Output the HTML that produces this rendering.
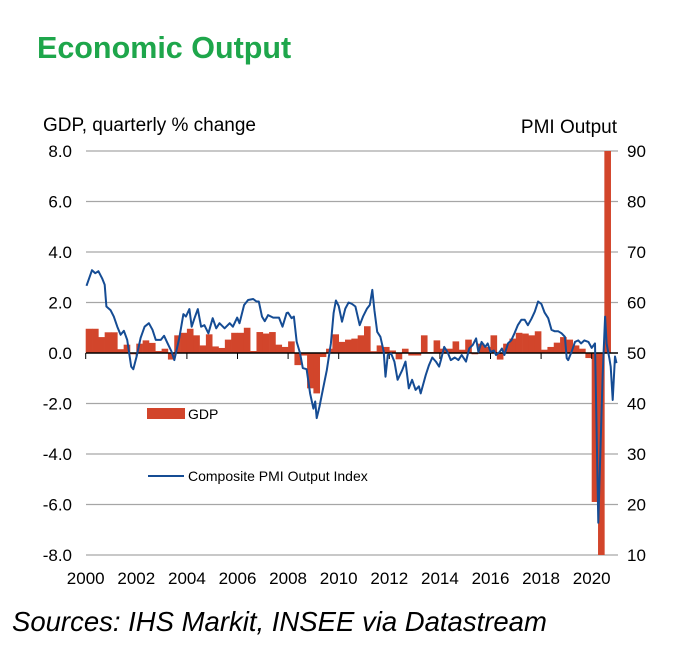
<!DOCTYPE html>
<html><head><meta charset="utf-8"><style>
body{margin:0;background:#fff;width:677px;height:657px;overflow:hidden;font-family:"Liberation Sans",Arial,sans-serif}
svg{display:block}
</style></head><body>
<svg id="c" width="677" height="657">
<text x="37" y="58" font-size="30.5" font-weight="bold" fill="#1ea64b">Economic Output</text>
<text x="43" y="131" font-size="19" fill="#000">GDP, quarterly % change</text>
<text x="617" y="133" font-size="19" fill="#000" text-anchor="end">PMI Output</text>
<text x="12" y="631" font-size="27.5" font-style="italic" fill="#000">Sources: IHS Markit, INSEE via Datastream</text>
<g id="grid"></g><g id="bars"></g><g id="axes"></g><g id="line"></g><g id="legend"></g>
</svg>
<script>
const gdpStartYear = 2000;
const gdpValues = [0.96,0.96,0.63,0.82,0.82,0.15,0.33,-0.05,0.37,0.5,0.4,0.08,0.17,-0.26,0.7,0.8,0.96,0.7,0.3,0.74,0.26,0.2,0.53,0.8,0.8,1.0,0.08,0.83,0.77,0.83,0.33,0.24,0.46,-0.48,-0.1,-1.4,-1.6,-0.16,0.17,0.74,0.44,0.53,0.57,0.7,1.06,0.07,0.3,0.24,0.1,-0.25,0.17,-0.1,-0.1,0.7,0.04,0.5,0.17,0.17,0.46,0.13,0.53,-0.05,0.37,0.24,0.7,-0.26,0.37,0.57,0.8,0.77,0.7,0.86,0.13,0.24,0.41,0.63,0.53,0.3,0.17,-0.2,-5.9,-13.8,18.7];
const pmiDates = [2000.03,2000.25,2000.38,2000.5,2000.65,2000.75,2000.82,2000.98,2001.11,2001.25,2001.38,2001.51,2001.64,2001.8,2001.88,2002.01,2002.17,2002.33,2002.5,2002.64,2002.77,2002.97,2003.1,2003.23,2003.39,2003.5,2003.7,2003.86,2003.96,2004.1,2004.19,2004.3,2004.43,2004.56,2004.69,2004.85,2005.02,2005.16,2005.29,2005.49,2005.69,2005.82,2005.99,2006.08,2006.26,2006.42,2006.62,2006.75,2006.84,2006.97,2007.08,2007.21,2007.41,2007.64,2007.78,2007.94,2008.0,2008.14,2008.23,2008.34,2008.47,2008.58,2008.73,2008.87,2009.0,2009.07,2009.13,2009.24,2009.37,2009.53,2009.69,2009.8,2009.89,2010.0,2010.13,2010.26,2010.39,2010.53,2010.66,2010.83,2010.96,2011.12,2011.23,2011.33,2011.41,2011.52,2011.65,2011.78,2011.85,2011.94,2012.07,2012.2,2012.33,2012.51,2012.64,2012.77,2012.9,2013.04,2013.17,2013.24,2013.44,2013.57,2013.7,2013.84,2013.97,2014.04,2014.17,2014.3,2014.43,2014.59,2014.73,2014.86,2015.03,2015.16,2015.3,2015.43,2015.52,2015.65,2015.79,2015.89,2016.0,2016.13,2016.22,2016.36,2016.45,2016.55,2016.69,2016.82,2016.95,2017.08,2017.22,2017.35,2017.48,2017.62,2017.75,2017.88,2018.01,2018.14,2018.28,2018.41,2018.54,2018.68,2018.81,2018.94,2019.01,2019.07,2019.2,2019.34,2019.47,2019.58,2019.71,2019.87,2020.0,2020.13,2020.26,2020.43,2020.53,2020.59,2020.7,2020.75,2020.83,2020.92,2020.98];
const pmiValues = [63.3,66.4,65.8,66.2,64.8,63.5,59.2,58.5,57.2,55.2,53.6,54.4,52.6,47.3,46.8,49.3,53,55.2,55.9,54.6,52.6,52.6,53.4,52,50.3,48.6,53,57.7,57.2,58.7,55.2,56.9,58.7,55.2,55.5,53.9,56.9,54.9,55.9,54.9,55.9,55.2,57,55.9,59.5,60.5,60.7,60.2,60.2,57.2,56.3,57.5,57,57,55.2,57.9,58,56.9,57.2,52.2,50,47,46.8,42,39,40.4,37.1,39.4,42.7,46.6,51.9,57.9,60.4,59.3,56.2,58.8,60,59.7,59.2,55.5,57.2,58.8,59.5,62.5,58.5,54.2,53.2,50.3,45.3,49.6,49.9,48.3,44.7,46.6,48.3,43,44.7,42.7,43.4,42,45.6,47.6,49.1,48.3,47.3,48.6,51.2,50.2,48.6,49.1,48.6,49.6,48.3,50.9,51.6,52.9,50.2,52.2,51.2,51.9,50.2,50.5,49.6,50.2,50.9,49.6,51.9,52.5,53.9,55.5,56.6,56.6,55.5,56.8,58.2,60.2,59.7,58,56.9,54.6,54.3,54.3,53.9,53.2,49,48.6,50.2,52.2,52.5,51.9,52.5,52.2,51,51.9,16.4,45.3,57.2,51.9,48.9,47.3,40.7,49.3,48];
const leftTicks = [8,6,4,2,0,-2,-4,-6,-8];
const rightTicks = [90,80,70,60,50,40,30,20,10];
const yearTicks = [2000,2002,2004,2006,2008,2010,2012,2014,2016,2018,2020];

const NS="http://www.w3.org/2000/svg";
const L=86,R=618,T=151,B=555;
const xT=t=>85.7+25.3*(t-2000);
const yL=v=>353-v*(B-T)/16;
const yR=v=>353-(v-50)*(B-T)/80;
function mk(tag,attrs,parent){const e=document.createElementNS(NS,tag);for(const k in attrs)e.setAttribute(k,attrs[k]);document.getElementById(parent).appendChild(e);return e;}

leftTicks.forEach(v=>{
  const g=mk('line',{x1:L,x2:R,y1:yL(v),y2:yL(v),stroke:v===0?'#000':'#a6a6a6','stroke-width':v===0?1.5:1.2},v===0?'axes':'grid');
  
  
  const t=mk('text',{x:72,y:yL(v)+6,'font-size':17,'text-anchor':'end'},'axes');
  t.textContent=v.toFixed(1);
  
  
});
rightTicks.forEach(v=>{
  const t=mk('text',{x:627,y:yR(v)+6,'font-size':17},'axes');
  t.textContent=v;
  
  
});
yearTicks.forEach(y=>{
  const tk=mk('line',{x1:xT(y),x2:xT(y),y1:353,y2:359,stroke:'#000','stroke-width':1},'axes');
  
  
  const t=mk('text',{x:xT(y),y:584,'font-size':17,'text-anchor':'middle'},'axes');
  t.textContent=y;
  
  
});
gdpValues.forEach((v,i)=>{
  const t0=gdpStartYear+i/4;
  const x0=xT(t0),x1=Math.min(xT(t0+0.25),R);
  let y0=yL(Math.max(v,0)),y1=yL(Math.min(v,0));
  y0=Math.max(y0,T);y1=Math.min(y1,B);
  const r=mk('rect',{x:x0,y:y0,width:x1-x0+0.3,height:Math.max(y1-y0,0.5),fill:'#d2452b'},'bars');
  
  
});
const pts=pmiDates.map((d,i)=>xT(d).toFixed(1)+','+yR(pmiValues[i]).toFixed(1)).join(' ');
const pl=mk('polyline',{points:pts,fill:'none',stroke:'#154c94','stroke-width':2,'stroke-linejoin':'round'},'line');



const sw=mk('rect',{x:147,y:408,width:38,height:11,fill:'#d2452b'},'legend');


const lt=mk('text',{x:188,y:419,'font-size':14},'legend');
lt.textContent='GDP';


const ll=mk('line',{x1:148,x2:184,y1:476,y2:476,stroke:'#154c94','stroke-width':2},'legend');


const lt2=mk('text',{x:188,y:481,'font-size':14},'legend');
lt2.textContent='Composite PMI Output Index';


</script>
</body></html>
